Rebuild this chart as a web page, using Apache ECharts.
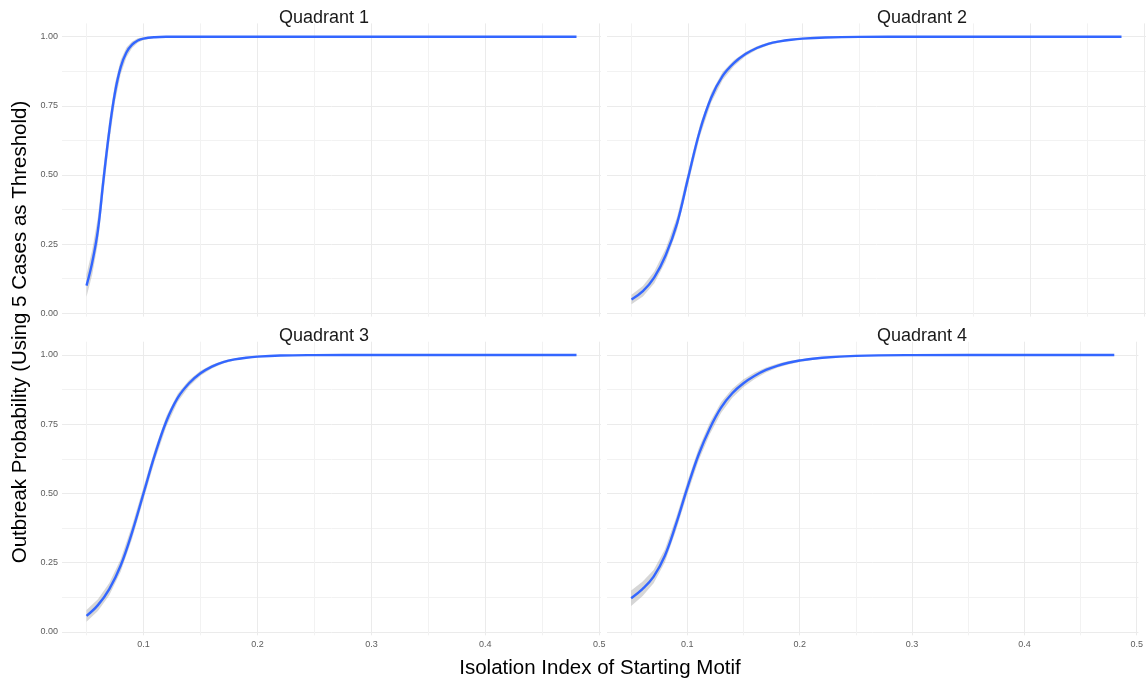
<!DOCTYPE html>
<html>
<head>
<meta charset="utf-8">
<script src="https://cdn.jsdelivr.net/npm/echarts@6/dist/echarts.min.js"></script>
<style>
  html, body { margin: 0; padding: 0; background: #ffffff; }
  #chart { width: 1146px; height: 682px; }
</style>
</head>
<body>
<div id="chart"></div>
<script>
// Facet labels
const panelTitles = ['Quadrant 1', 'Quadrant 2', 'Quadrant 3', 'Quadrant 4'];

// Isolation index sample points
const xQ1 = [0.05, 0.055, 0.06, 0.065, 0.07, 0.075, 0.08, 0.085, 0.09, 0.095, 0.10, 0.11, 0.12, 0.14, 0.20, 0.30, 0.40, 0.48];
const xQ  = [0.05, 0.06, 0.07, 0.08, 0.09, 0.10, 0.11, 0.12, 0.13, 0.14, 0.15, 0.16, 0.17, 0.18, 0.19, 0.20, 0.22, 0.25, 0.30, 0.40, 0.48];

// Fitted outbreak probability per quadrant
const fitQ1 = [0.10, 0.184, 0.30, 0.486, 0.659, 0.798, 0.89, 0.943, 0.971, 0.986, 0.993, 0.998, 0.9996, 1, 1, 1, 1, 1];
const fitQ2 = [0.05, 0.08, 0.13, 0.21, 0.325, 0.495, 0.66, 0.78, 0.858, 0.905, 0.937, 0.959, 0.974, 0.983, 0.989, 0.993, 0.997, 0.9993, 1, 1, 1];
const fitQ3 = [0.058, 0.097, 0.155, 0.24, 0.36, 0.50, 0.64, 0.76, 0.845, 0.898, 0.934, 0.958, 0.974, 0.984, 0.99, 0.994, 0.998, 0.9995, 1, 1, 1];
const fitQ4 = [0.122, 0.155, 0.20, 0.275, 0.39, 0.52, 0.64, 0.735, 0.81, 0.862, 0.898, 0.925, 0.946, 0.961, 0.972, 0.98, 0.99, 0.997, 0.9995, 1, 1];

// Half-width of the confidence band
const bandQ1 = [0.04, 0.045, 0.048, 0.045, 0.04, 0.034, 0.026, 0.018, 0.012, 0.008, 0.005, 0.002, 0.001, 0, 0, 0, 0, 0];
const bandQ2 = [0.017, 0.019, 0.021, 0.023, 0.024, 0.023, 0.021, 0.018, 0.015, 0.011, 0.008, 0.006, 0.005, 0.004, 0.003, 0.002, 0.001, 0.0005, 0, 0, 0];
const bandQ3 = [0.021, 0.021, 0.022, 0.023, 0.024, 0.023, 0.021, 0.019, 0.015, 0.012, 0.009, 0.007, 0.005, 0.004, 0.003, 0.002, 0.001, 0.0005, 0, 0, 0];
const bandQ4 = [0.028, 0.026, 0.024, 0.023, 0.023, 0.023, 0.022, 0.021, 0.019, 0.016, 0.014, 0.012, 0.009, 0.007, 0.006, 0.005, 0.003, 0.0015, 0.0005, 0, 0];

// Axis tick labels
const xTickValues = [0.1, 0.2, 0.3, 0.4, 0.5];
const xTickLabels = ['0.1', '0.2', '0.3', '0.4', '0.5'];
const yTickValues = [0, 0.25, 0.5, 0.75, 1];
const yTickLabels = ['0.00', '0.25', '0.50', '0.75', '1.00'];

const xTitle = 'Isolation Index of Starting Motif';
const yTitle = 'Outbreak Probability (Using 5 Cases as Threshold)';

const panels = [
  { x: xQ1, fit: fitQ1, band: bandQ1 },
  { x: xQ,  fit: fitQ2, band: bandQ2 },
  { x: xQ,  fit: fitQ3, band: bandQ3 },
  { x: xQ,  fit: fitQ4, band: bandQ4 }
];

const FONT = '"Liberation Sans", Arial, Helvetica, sans-serif';
const LINE_BLUE = '#3366FF';
const BAND_GREY = 'rgba(153,153,153,0.4)';
const GRID_MAJOR = '#ebebeb';
const GRID_MINOR = '#f2f2f2';
const TICK_GREY = '#5c5c5c';

function lookupLabel(values, labels, v) {
  for (let i = 0; i < values.length; i++) {
    if (Math.abs(values[i] - v) < 1e-6) return labels[i];
  }
  return '';
}

// 2 x 2 facet layout
const gridBoxes = [
  { left: 62,  top: 23.4,  width: 539, height: 293.2 },
  { left: 607, top: 23.4,  width: 539, height: 293.2 },
  { left: 62,  top: 341.7, width: 539, height: 293.6 },
  { left: 607, top: 341.7, width: 539, height: 293.6 }
];

const grid = [], xAxis = [], yAxis = [], series = [];
const SMOOTH = 0.4;

// Confidence ribbon: one polygon through the upper bound, back along the lower bound
function bandRenderer(rows) {
  return function (params, api) {
    if (params.dataIndex !== 0) return null;
    const upper = rows.map(r => api.coord([r[0], r[2]]));
    const lower = rows.map(r => api.coord([r[0], r[1]])).reverse();
    return {
      type: 'polygon',
      shape: { points: upper.concat(lower) },
      style: { fill: BAND_GREY, stroke: null },
      silent: true
    };
  };
}

gridBoxes.forEach((box, i) => {
  const isLeft = i % 2 === 0;
  const isBottom = i >= 2;
  grid.push(Object.assign({ containLabel: false }, box));
  xAxis.push({
    type: 'value', gridIndex: i,
    min: 0.0285, max: 0.5015,
    splitNumber: 10, minInterval: 0.05, maxInterval: 0.05,
    axisLine: { show: false }, axisTick: { show: false },
    axisLabel: {
      show: isBottom, margin: 5, color: TICK_GREY, fontSize: 9, fontFamily: FONT,
      showMinLabel: false, showMaxLabel: false,
      formatter: v => lookupLabel(xTickValues, xTickLabels, v)
    },
    splitLine: {
      show: true, showMinLine: false, showMaxLine: false,
      lineStyle: { color: [GRID_MINOR, GRID_MAJOR], width: 1 }
    }
  });
  yAxis.push({
    type: 'value', gridIndex: i,
    min: -0.012, max: 1.048,
    splitNumber: 10, minInterval: 0.125, maxInterval: 0.125,
    axisLine: { show: false }, axisTick: { show: false },
    axisLabel: {
      show: isLeft, margin: 4, color: TICK_GREY, fontSize: 9, fontFamily: FONT,
      showMinLabel: false, showMaxLabel: false,
      formatter: v => lookupLabel(yTickValues, yTickLabels, v)
    },
    splitLine: {
      show: true, showMinLine: false, showMaxLine: false,
      lineStyle: { color: [GRID_MAJOR, GRID_MINOR], width: 1 }
    }
  });

  const p = panels[i];
  const rows = p.x.map((x, k) => [
    x,
    Math.max(0, p.fit[k] - p.band[k]),
    Math.min(1, p.fit[k] + p.band[k])
  ]);
  const fit = p.x.map((x, k) => [x, p.fit[k]]);

  series.push({
    type: 'custom', xAxisIndex: i, yAxisIndex: i,
    data: rows, encode: { x: 0, y: [1, 2] },
    renderItem: bandRenderer(rows), silent: true, z: 1
  });
  series.push({
    type: 'line', xAxisIndex: i, yAxisIndex: i, data: fit,
    symbol: 'none', smooth: SMOOTH,
    lineStyle: { color: LINE_BLUE, width: 2.4 }, silent: true, z: 3
  });
});

// Facet strip titles and shared axis titles
const stripPos = [[324, 18], [922, 18], [324, 336], [922, 336]];
const graphic = panelTitles.map((t, i) => ({
  type: 'text', x: stripPos[i][0], y: stripPos[i][1], silent: true,
  style: { text: t, fontSize: 18, fontFamily: FONT, fill: '#1a1a1a', align: 'center', verticalAlign: 'middle' }
}));
graphic.push({
  type: 'text', x: 600, y: 668, silent: true,
  style: { text: xTitle, fontSize: 20.5, fontFamily: FONT, fill: '#000', align: 'center', verticalAlign: 'middle' }
});
graphic.push({
  type: 'text', x: 20, y: 332, rotation: Math.PI / 2, silent: true,
  style: { text: yTitle, fontSize: 20.5, fontFamily: FONT, fill: '#000', align: 'center', verticalAlign: 'middle' }
});

const chart = echarts.init(document.getElementById('chart'), null, { renderer: 'canvas' });
chart.setOption({
  animation: false,
  backgroundColor: '#ffffff',
  grid, xAxis, yAxis, series, graphic
});
</script>
</body>
</html>
